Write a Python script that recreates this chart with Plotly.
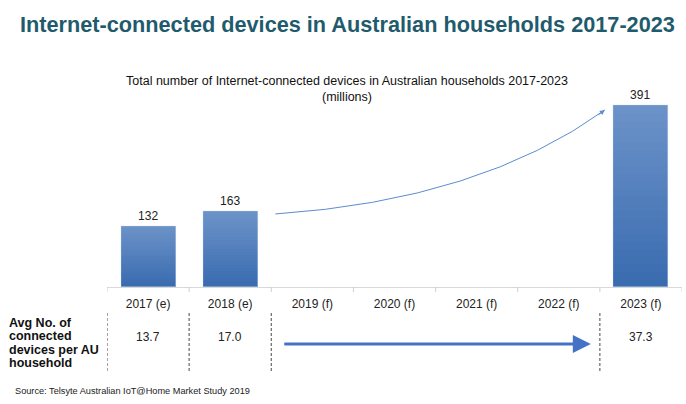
import plotly.graph_objects as go

categories = ["2017 (e)", "2018 (e)", "2019 (f)", "2020 (f)", "2021 (f)", "2022 (f)", "2023 (f)"]
devices_m = [132, 163, None, None, None, None, 391]
avg_per_household = ["13.7", "17.0", None, None, None, None, "37.3"]
row_label_lines = ["Avg No. of", "connected", "devices per AU", "household"]

FONT = "Arial, Liberation Sans, sans-serif"
W, H = 686, 404
L, R, T, B = 107, 4, 60, 117
plot_h = H - T - B
YMAX = 489

def py(pix):
    # pixel row -> paper y
    return (H - B - pix) / plot_h

def px(pix):
    return (pix - L) / (W - L - R)

xs = list(range(len(categories)))
fig = go.Figure()

# gradient bars via overlaid stacks
N = 24
top = (108, 147, 201)
bot = (58, 108, 176)
bx = [x for x, v in zip(xs, devices_m) if v is not None]
bv = [v for v in devices_m if v is not None]
for k in range(N):
    f = 1 - k / N
    c = tuple(int(top[i] + (bot[i] - top[i]) * (k / (N - 1))) for i in range(3))
    fig.add_trace(go.Bar(x=bx, y=[v * f for v in bv], width=0.67,
                         marker=dict(color="rgb(%d,%d,%d)" % c, line=dict(width=0)),
                         hoverinfo="skip", showlegend=False))
fig.add_trace(go.Bar(x=bx, y=bv, width=0.67, marker=dict(color="rgba(0,0,0,0)"),
                     text=[str(v) for v in bv], textposition="outside",
                     textfont=dict(family=FONT, size=12, color="#222"),
                     cliponaxis=False, showlegend=False, hoverinfo="skip"))

# curved growth arrow from 2018 to 2023
x0, y0 = 1.55, devices_m[1] * 0.965
x2, y2 = 5.56, devices_m[6] * 0.975
x1, y1 = 4.04, 187
fig.add_shape(type="path", path=f"M {x0},{y0} Q {x1},{y1} {x2},{y2}",
              xref="x", yref="y", line=dict(color="#5a8ccf", width=1))
fig.add_annotation(x=x2, y=y2, xref="x", yref="y", ax=-8, ay=6, showarrow=True,
                   arrowhead=2, arrowsize=1, arrowwidth=1, arrowcolor="#5a8ccf", text="")

fig.update_layout(
    width=W, height=H, margin=dict(l=L, r=R, t=T, b=B),
    paper_bgcolor="white", plot_bgcolor="white",
    barmode="overlay", bargap=0,
    xaxis=dict(range=[-0.5, 6.5], tickmode="array", tickvals=xs, ticktext=categories,
               showgrid=False, zeroline=False, showline=True, linecolor="#d9d9d9", linewidth=1,
               ticks="", tickfont=dict(family=FONT, size=12, color="#222"), ticklabelstandoff=6),
    yaxis=dict(range=[0, YMAX], visible=False),
    showlegend=False,
)

# minor ticks between categories
for i in range(len(categories) + 1):
    fig.add_shape(type="line", xref="x", yref="paper", x0=i - 0.5, x1=i - 0.5,
                  y0=py(287), y1=py(292), line=dict(color="#d0d0d0", width=1))

# titles
fig.add_annotation(xref="paper", yref="paper", x=px(18), y=py(25), xanchor="left",
                   yanchor="middle", showarrow=False,
                   text="<b>Internet-connected devices in Australian households 2017-2023</b>",
                   font=dict(family=FONT, size=21.7, color="#1f5b6d"))
fig.add_annotation(xref="paper", yref="paper", x=px(347), y=py(89), xanchor="center",
                   yanchor="middle", showarrow=False,
                   text="Total number of Internet-connected devices in Australian households 2017-2023<br>(millions)",
                   font=dict(family=FONT, size=12.5, color="#111"))

# table row
for i, line in enumerate(row_label_lines):
    fig.add_annotation(xref="paper", yref="paper", x=px(7), y=py(323 + i * 13.3), xanchor="left",
                       yanchor="middle", showarrow=False, text=f"<b>{line}</b>",
                       font=dict(family=FONT, size=12.5, color="#111"))
for x, v in zip(xs, avg_per_household):
    if v is not None:
        fig.add_annotation(xref="x", yref="paper", x=x, y=py(346), showarrow=False, text=v,
                           font=dict(family=FONT, size=12, color="#222"))
for xb in [-0.5, 0.5, 1.5, 5.5]:
    fig.add_shape(type="line", xref="x", yref="paper", x0=xb, x1=xb, y0=py(313), y1=py(373),
                  line=dict(color="#666", width=1.2, dash="3px,2px"))
fig.add_annotation(xref="x", yref="paper", x=5.39, y=py(344), ax=1.64, axref="x", ay=0, ayref="pixel",
                   showarrow=True, arrowhead=2, arrowsize=1.2, arrowwidth=3, arrowcolor="#4472c4",
                   text="", standoff=0)

fig.add_annotation(xref="paper", yref="paper", x=px(13), y=py(391), xanchor="left",
                   yanchor="middle", showarrow=False,
                   text="Source: Telsyte Australian IoT@Home Market Study 2019",
                   font=dict(family=FONT, size=9.2, color="#222"))

fig.write_html("out.html")
